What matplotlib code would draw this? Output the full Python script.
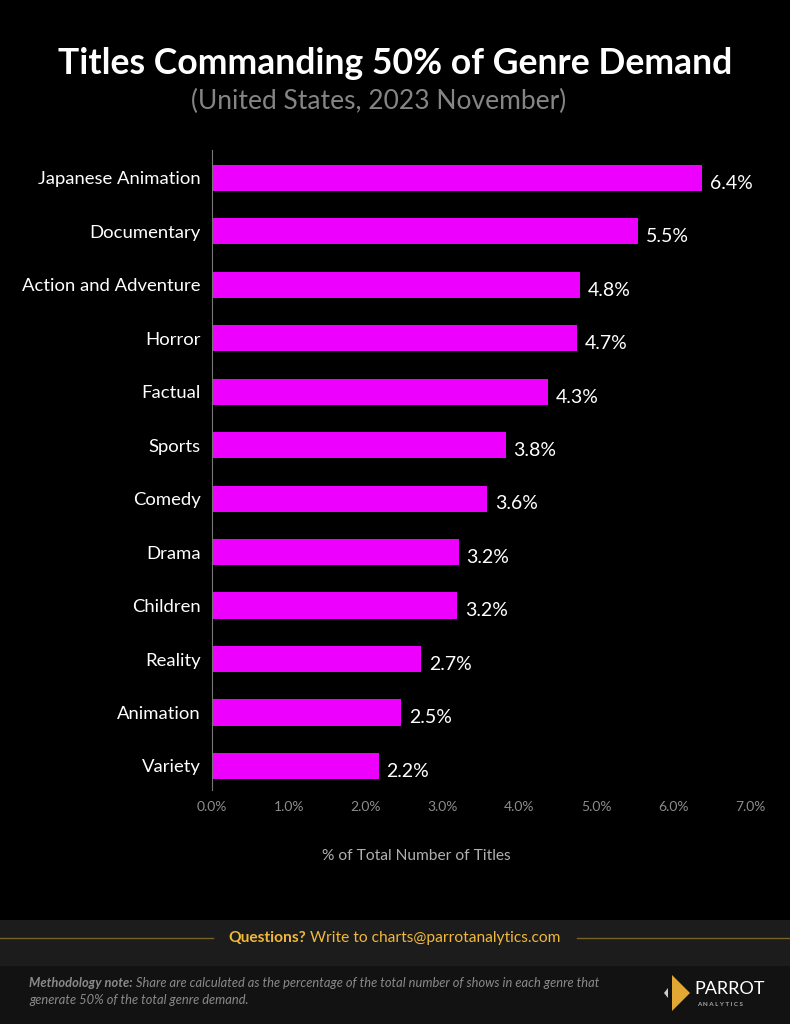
import matplotlib.pyplot as plt
from matplotlib.patches import Rectangle, Polygon

# data
genres = ["Japanese Animation", "Documentary", "Action and Adventure", "Horror",
          "Factual", "Sports", "Comedy", "Drama", "Children", "Reality",
          "Animation", "Variety"]
shares = [6.38, 5.54, 4.79, 4.75, 4.37, 3.82, 3.58, 3.21, 3.19, 2.72, 2.46, 2.17]
labels = ["6.4%", "5.5%", "4.8%", "4.7%", "4.3%", "3.8%", "3.6%", "3.2%",
          "3.2%", "2.7%", "2.5%", "2.2%"]
ticks = [0, 1, 2, 3, 4, 5, 6, 7]

W, H = 790, 1024
plt.rcParams['font.family'] = ['Lato', 'DejaVu Sans']

fig = plt.figure(figsize=(W / 100, H / 100), dpi=100)
fig.patch.set_facecolor("black")
renderer = fig.canvas.get_renderer()


def fx(x):
    return x / W


def fy(y):
    return 1 - y / H


def right_edge(t):
    # right end of a text, in pixels
    return t.get_window_extent(renderer).x1


# =========================
# bar chart
# =========================
ax = fig.add_axes([fx(212), fy(790), fx(750) - fx(212), fy(150) - fy(790)])
ax.set_facecolor("black")
pos = list(range(len(genres)))
ax.barh(pos, shares, height=0.49, color="#ee00ff")
ax.set_ylim(len(genres) - 0.55, -0.52)
ax.set_xlim(0, 7)
ax.set_yticks(pos)
ax.set_yticklabels(genres, color="white", fontsize=13.3)
ax.set_xticks(ticks)
ax.set_xticklabels([f"{t:.1f}%" for t in ticks], color="#8c8c8c", fontsize=10)
ax.tick_params(axis="both", length=0)
ax.tick_params(axis="y", pad=8)
ax.tick_params(axis="x", pad=8)
for s in ["top", "right", "bottom"]:
    ax.spines[s].set_visible(False)
ax.spines["left"].set_color("#777777")
ax.spines["left"].set_linewidth(0.8)

for p, v, t in zip(pos, shares, labels):
    ax.text(v + 0.1, p + 0.1, t, color="white", fontsize=14, va="center", ha="left")

fig.text(fx(416), fy(856), "% of Total Number of Titles", color="#b0b0b0",
         fontsize=11.2, ha="center", va="center")

# titles
fig.text(fx(395), fy(63), "Titles Commanding 50% of Genre Demand", color="white",
         fontsize=25.6, fontweight="bold", ha="center", va="center")
fig.text(fx(379), fy(101), "(United States, 2023 November)", color="#858585",
         fontsize=19, ha="center", va="center")

# =========================
# footer
# =========================
fig.patches.append(Rectangle((0, fy(966)), 1, fy(920) - fy(966), transform=fig.transFigure,
                             facecolor="#1c1c1c", edgecolor="none", zorder=0))
fig.patches.append(Rectangle((0, 0), 1, fy(966), transform=fig.transFigure,
                             facecolor="#121212", edgecolor="none", zorder=0))
fig.add_artist(plt.Line2D([0, fx(213)], [fy(938), fy(938)], transform=fig.transFigure,
                          color="#7a6226", lw=1))
fig.add_artist(plt.Line2D([fx(577), 1], [fy(938), fy(938)], transform=fig.transFigure,
                          color="#7a6226", lw=1))
q = fig.text(fx(228), fy(938), "Questions?", color="#f0b83c", fontsize=11.2,
             fontweight="bold", ha="left", va="center")
fig.text(fx(right_edge(q) + 4), fy(938), "Write to charts@parrotanalytics.com",
         color="#f0b83c", fontsize=11.2, ha="left", va="center")

m = fig.text(fx(29), fy(983), "Methodology note:", color="#8a8a8a", fontsize=9.25,
             fontweight="bold", style="italic", ha="left", va="center")
fig.text(fx(right_edge(m) + 3), fy(983),
         "Share are calculated as the percentage of the total number of shows in each genre that",
         color="#8a8a8a", fontsize=9.25, style="italic", ha="left", va="center")
fig.text(fx(29), fy(1000), "generate 50% of the total genre demand.", color="#8a8a8a",
         fontsize=9.25, style="italic", ha="left", va="center")

# logo
fig.patches.append(Polygon([[fx(672), fy(975)], [fx(690), fy(993)], [fx(672), fy(1011)]],
                           closed=True, transform=fig.transFigure, facecolor="#e2a833",
                           edgecolor="none"))
fig.patches.append(Polygon([[fx(668), fy(988)], [fx(664), fy(993)], [fx(668), fy(998)]],
                           closed=True, transform=fig.transFigure, facecolor="#cccccc",
                           edgecolor="none"))
fig.text(fx(694), fy(989), "PARROT", color="white", fontsize=13, ha="left", va="center")
fig.text(fx(697), fy(1004), "A N A L Y T I C S", color="#aaaaaa", fontsize=4.5,
         fontweight="bold", ha="left", va="center")

fig.savefig("out.png", dpi=100, facecolor=fig.get_facecolor())
